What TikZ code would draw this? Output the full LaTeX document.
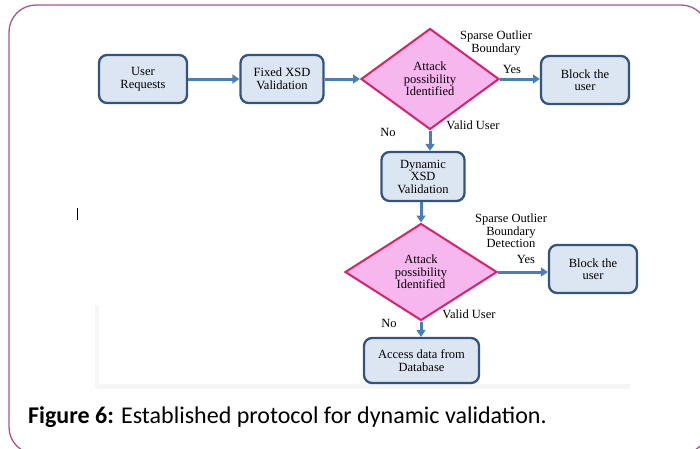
\documentclass[tikz,border=0pt]{standalone}
\usepackage{fontspec}
\setmainfont{Liberation Serif}
\newfontfamily\capfont{Carlito}
\usetikzlibrary{arrows.meta,shapes.geometric}
\definecolor{framecol}{RGB}{176,82,140}
\definecolor{boxfill}{RGB}{220,230,242}
\definecolor{boxline}{RGB}{52,84,128}
\definecolor{arrcol}{RGB}{74,126,187}
\definecolor{decfill}{RGB}{246,182,238}
\definecolor{decline}{RGB}{222,32,104}
\tikzset{
  procbox/.style={draw=boxline, fill=boxfill, line width=2.3pt, rounded corners=8pt,
    align=center, inner sep=0pt, font=\fontsize{12.5}{12.5}\selectfont},
  decision/.style={diamond, draw=decline, fill=decfill, line width=2pt, inner sep=0pt},
  dectext/.style={align=center, font=\fontsize{12.5}{12.5}\selectfont},
  lbl/.style={align=center, inner sep=0pt, font=\fontsize{12.5}{12.5}\selectfont},
  arr/.style={draw=arrcol, line width=3pt, -{Triangle[length=7pt,width=9pt]}},
}
\begin{document}
\begin{tikzpicture}[x=1pt,y=-1pt]
\useasboundingbox (0,0) rectangle (700,448);
% outer frame
\draw[framecol, line width=1.3pt, rounded corners=27pt] (9,5) rectangle (708,454);
% faint scan shadow at the foot of the chart
\fill[black!4] (95,384) rectangle (630,389);
\fill[black!3] (95,305) rectangle (99,389);
% text cursor mark
\draw[black, line width=0.8pt] (77,208) -- (77,220);

% first stage
\node[procbox, minimum width=88pt, minimum height=48pt] (ur) at (143,79) {User\\Requests};
\node[procbox, minimum width=83pt, minimum height=48pt] (fx) at (282,79) {Fixed XSD\\Validation};
\node[decision, minimum width=138pt, minimum height=101pt] (d1) at (430,79) {};
\node[dectext] at (d1.center) {Attack\\possibility\\Identified};
\node[procbox, minimum width=88pt, minimum height=48pt] (b1) at (585,80) {Block the\\user};

% second stage
\node[procbox, minimum width=83pt, minimum height=49pt] (dx) at (423,176.5) {Dynamic\\XSD\\Validation};
\node[decision, minimum width=152pt, minimum height=97pt] (d2) at (421,272) {};
\node[dectext] at (d2.center) {Attack\\possibility\\Identified};
\node[procbox, minimum width=88pt, minimum height=48pt] (b2) at (593,269) {Block the\\user};
\node[procbox, minimum width=115pt, minimum height=45pt] (ad) at (421.5,360.5) {Access data from\\Database};

% connectors
\draw[arr] (ur.east) -- (fx.west);
\draw[arr] (fx.east) -- (d1.west);
\draw[arr] (d1.east) -- (d1.east -| b1.west);
\draw[arr] (d1.south) -- (d1.south |- dx.north);
\draw[arr] (dx.south -| d2.north) -- (d2.north);
\draw[arr] (d2.east) -- (d2.east -| b2.west);
\draw[arr] (d2.south) -- (d2.south |- ad.north);

% branch labels
\node[lbl] (s1) at (496,43) {Sparse Outlier\\Boundary};
\node[lbl] (y1) at (512,69) {Yes};
\node[lbl] (v1) at (473,125) {Valid User};
\node[lbl] (n1) at (388,132) {No};
\node[lbl] (s2) at (511,231) {Sparse Outlier\\Boundary\\Detection};
\node[lbl] (y2) at (526,259) {Yes};
\node[lbl] (v2) at (469,314) {Valid User};
\node[lbl] (n2) at (389,323) {No};

% caption
\node[anchor=base west, inner sep=0pt, font=\capfont\fontsize{24}{26}\selectfont] (cap) at (28,423)
  {\textbf{Figure 6:} Established protocol for dynamic validation.};
\end{tikzpicture}
\end{document}
